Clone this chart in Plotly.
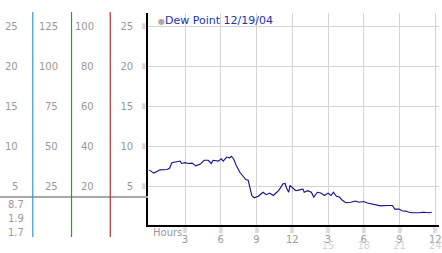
import plotly.graph_objects as go

# ---- data ----
hours = [0, 0.37, 0.64, 0.9, 1.5, 1.7, 1.9, 2.3, 2.6, 2.7, 3.0, 3.3, 3.6, 3.9, 4.25, 4.6,
         4.95, 5.2, 5.35, 5.8, 6.05, 6.2, 6.5, 6.75, 6.9, 7.1, 7.3, 7.6, 7.85, 8.1, 8.3,
         8.45, 8.6, 8.8, 9.15, 9.55, 9.8, 10.1, 10.4, 10.7, 10.9, 11.2, 11.4, 11.5, 11.7,
         11.8, 12.05, 12.3, 12.6, 12.9, 13.0, 13.3, 13.6, 13.8, 14.1, 14.4, 14.7, 15.0,
         15.25, 15.45, 15.7, 15.95, 16.2, 16.5, 16.9, 17.3, 17.6, 18.0, 18.3, 18.6, 19.0,
         19.4, 20.0, 20.4, 20.6, 20.95, 21.2, 21.5, 21.8, 22.05, 22.6, 23.0, 23.45, 23.7]
dew_point = [7.1, 6.7, 6.9, 7.1, 7.15, 7.3, 8.0, 8.1, 8.2, 7.9, 8.0, 7.9, 7.95, 7.6, 7.8, 8.3,
             8.3, 7.9, 8.3, 8.2, 8.5, 8.2, 8.7, 8.6, 8.8, 8.4, 7.65, 6.8, 6.4, 5.9, 5.8,
             4.9, 3.9, 3.6, 3.8, 4.3, 4.0, 4.2, 3.9, 4.3, 4.6, 5.35, 5.4, 4.9, 4.3,
             5.15, 4.8, 4.5, 4.6, 4.7, 4.3, 4.5, 4.3, 3.7, 4.3, 4.2, 3.9, 4.2,
             3.9, 4.3, 3.8, 3.7, 3.3, 3.0, 3.05, 3.2, 3.05, 3.15, 2.95, 2.85, 2.7,
             2.6, 2.65, 2.65, 2.2, 2.2, 2.0, 1.95, 1.8, 1.75, 1.75, 1.8, 1.75, 1.8]

y_ticks = [5, 10, 15, 20, 25]
col1_labels = ["5", "10", "15", "20", "25"]
col2_labels = ["25", "50", "75", "100", "125"]
col3_labels = ["20", "40", "60", "80", "100"]
stats_labels = ["8.7", "1.9", "1.7"]
x_ticks = [3, 6, 9, 12, 15, 18, 21, 24]
x_labels = ["3", "6", "9", "12", "3", "6", "9", "12"]
x2_ticks = [15, 18, 21, 24]
x2_labels = ["15", "18", "21", "24"]
title_text = "Dew Point 12/19/04"

W, H = 442, 253
FONT = "DejaVu Sans"
GRAY = "#999999"
GLYPH = "▒"
GLYPH_FONT = dict(family=FONT, size=5, color="#c4c4c4")

def px(x):
    return x / W

def py(y):
    return (H - y) / H

fig = go.Figure()
fig.add_trace(go.Scatter(x=hours, y=dew_point, mode="lines",
                         line=dict(color="#10108f", width=1.1), hoverinfo="skip"))
# invisible trace to activate xaxis2
fig.add_trace(go.Scatter(x=[None], y=[None], xaxis="x2", yaxis="y", showlegend=False))

fig.update_layout(
    width=W, height=H, margin=dict(l=0, r=0, t=0, b=0),
    paper_bgcolor="white", plot_bgcolor="white", showlegend=False,
    font=dict(family=FONT, size=10, color=GRAY),
    xaxis=dict(domain=[px(149), 1], range=[-0.108, 24.31], tickvals=x_ticks,
               ticktext=x_labels, showgrid=True, gridcolor="#d4d4d4", gridwidth=1,
               showline=True, linecolor="black", linewidth=1.5, ticks="",
               zeroline=False, tickfont=dict(family=FONT, size=10, color=GRAY),
               ticklabelstandoff=4, ticklabeloverflow="allow"),
    xaxis2=dict(overlaying="x", anchor="free", position=py(231), side="bottom",
                range=[-0.108, 24.31], tickvals=x2_ticks, ticktext=x2_labels,
                showgrid=False, showline=False, ticks="", zeroline=False,
                tickfont=dict(family=FONT, size=10, color="#d4d4d4"),
                ticklabelstandoff=7, ticklabeloverflow="allow"),
    yaxis=dict(domain=[py(225), py(13)], range=[0.21, 26.71], tickvals=y_ticks,
               ticktext=col1_labels, showgrid=True, gridcolor="#d4d4d4", gridwidth=1,
               showline=True, linecolor="black", linewidth=1.5, ticks="",
               zeroline=False, tickfont=dict(family=FONT, size=10, color=GRAY),
               ticklabelstandoff=11),
)

shapes = []
# gray horizontal divider in left panel
shapes.append(dict(type="line", xref="paper", yref="paper", x0=0, x1=px(149),
                   y0=py(197), y1=py(197), line=dict(color="#a8a8a8", width=2)))
for xp, col in [(33, "#3399d6"), (72, "#2f9a2f"), (111, "#b03232")]:
    shapes.append(dict(type="line", xref="paper", yref="paper", x0=px(xp), x1=px(xp),
                       y0=py(237), y1=py(12), line=dict(color=col, width=1.2)))
fig.update_layout(shapes=shapes)

ann = []
for v, a, b, c in zip(y_ticks, col1_labels, col2_labels, col3_labels):
    for xr, t in [(20, a), (60, b), (97, c)]:
        ann.append(dict(xref="paper", yref="y", x=px(xr), y=v, text=t, showarrow=False,
                        xanchor="right", yanchor="middle",
                        font=dict(family=FONT, size=10, color=GRAY)))
    ann.append(dict(xref="paper", yref="y", x=px(145), y=v, text=GLYPH, showarrow=False,
                    xanchor="center", yanchor="middle", font=GLYPH_FONT))
for t, yy in zip(stats_labels, [204, 218.3, 232.3]):
    ann.append(dict(xref="paper", yref="paper", x=px(26.5), y=py(yy), text=t,
                    showarrow=False, xanchor="right", yanchor="middle",
                    font=dict(family=FONT, size=10, color=GRAY)))
for xv in x_ticks:
    ann.append(dict(xref="x", yref="paper", x=xv, y=py(230), text=GLYPH, showarrow=False,
                    xanchor="center", yanchor="middle", font=GLYPH_FONT))
ann.append(dict(xref="paper", yref="paper", x=px(152.5), y=py(232.5), text="Hours",
                showarrow=False, xanchor="left", yanchor="middle",
                font=dict(family=FONT, size=10, color=GRAY)))
ann.append(dict(xref="paper", yref="paper", x=px(157), y=py(20.5),
                text="<span style='color:#aaaaaa;font-size:8px'>●</span>" + title_text,
                showarrow=False, xanchor="left", yanchor="middle",
                font=dict(family=FONT, size=11, color="#2233aa")))
fig.update_layout(annotations=ann)

fig.write_html("out.html")
